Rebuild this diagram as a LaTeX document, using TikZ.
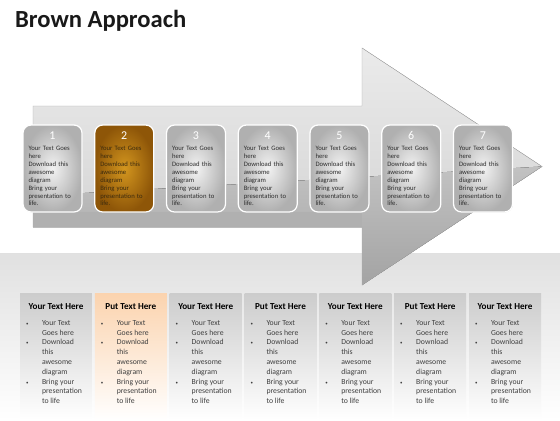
\documentclass[tikz,border=0pt]{standalone}
\usepackage{fontspec}
\setmainfont{Carlito}
\usepackage{tikz}
\usepackage{xcolor}
\usetikzlibrary{positioning,shapes,shadows}

\definecolor{boxtext}{HTML}{2E2E2E}
\definecolor{browntext}{HTML}{3B2A0E}
\definecolor{browninner}{HTML}{D3961F}
\definecolor{brownouter}{HTML}{8E5608}
\definecolor{peach}{HTML}{FBD3AE}

\newcommand{\steplines}{Your Text Goes\\here\\Download this\\awesome\\diagram\\Bring your\\presentation to\\life.}
\newcommand{\colbullet}{{\fontsize{7}{7}\selectfont\textbullet}}
\newcommand{\collines}{\begin{tabular}{@{}p{0.8cm}@{}l@{}}
\colbullet & Your Text\\ & Goes here\\
\colbullet & Download\\ & this\\ & awesome\\ & diagram\\
\colbullet & Bring your\\ & presentation\\ & to life
\end{tabular}}

\begin{document}
\begin{tikzpicture}[x=0.05cm,y=0.05cm,
  stepbox/.style={draw=white,line width=1.8pt,rounded corners=0.4cm,minimum width=2.95cm,minimum height=4.35cm,inner color=gray!10,outer color=gray!62,drop shadow={opacity=0.3,shadow xshift=0.6pt,shadow yshift=-0.6pt}},
  brownbox/.style={stepbox,inner color=browninner,outer color=brownouter},
  stepnum/.style={anchor=north,inner sep=0pt,text=white,font=\fontsize{17}{17}\selectfont},
  steptext/.style={anchor=north west,inner sep=0pt,text width=2.6cm,align=left,text=boxtext,font=\fontsize{9.5}{11.2}\selectfont},
  colbox/.style={minimum width=3.6cm,minimum height=6.35cm,inner sep=0pt,top color=gray!40,bottom color=white},
  peachbox/.style={colbox,top color=peach},
  colhead/.style={inner sep=0pt,font=\bfseries\fontsize{13}{13}\selectfont},
  coltext/.style={anchor=north west,inner sep=0pt,text=black!75,font=\fontsize{11}{13.9}\selectfont}]
\useasboundingbox (0,0) rectangle (560,-420);
\fill [white] (0,0) rectangle (560,-420);
\fill [top color=gray!24,bottom color=white] (0,-253) rectangle (560,-420);

% big arrow
\fill [top color=gray!16,bottom color=gray!38] (33,-106) -- (362,-106) -- (362,-48) -- (542,-166.5) -- (362,-285) -- (362,-227) -- (33,-227) -- cycle;
\fill [top color=gray!48,bottom color=gray!72] (33,-196) -- (542,-166.5) -- (362,-285) -- (362,-227) -- (33,-227) -- cycle;
\fill [gray!62] (33,-212) rectangle (362,-227);
\draw [gray!65,line width=0.6pt] (33,-106) -- (362,-106) -- (362,-48) -- (542,-166.5) -- (362,-285) -- (362,-227) -- (33,-227) -- cycle;

\node [anchor=base west,inner sep=0pt,text=black!90,font=\bfseries\fontsize{35}{35}\selectfont] (title) at (15,-27) {Brown Approach};

% steps
\node [stepbox] (step1) at (52.5,-168.5) {};
\node [stepnum] (num1) at ([yshift=-0.35cm]step1.north) {1};
\node [steptext] (text1) at ([xshift=0.3cm,yshift=-1.1cm]step1.north west) {\steplines};
\node [brownbox] (step2) at (124.25,-168.5) {};
\node [stepnum] (num2) at ([yshift=-0.35cm]step2.north) {2};
\node [steptext,text=browntext] (text2) at ([xshift=0.3cm,yshift=-1.1cm]step2.north west) {\steplines};
\node [stepbox] (step3) at (196,-168.5) {};
\node [stepnum] (num3) at ([yshift=-0.35cm]step3.north) {3};
\node [steptext] (text3) at ([xshift=0.3cm,yshift=-1.1cm]step3.north west) {\steplines};
\node [stepbox] (step4) at (267.75,-168.5) {};
\node [stepnum] (num4) at ([yshift=-0.35cm]step4.north) {4};
\node [steptext] (text4) at ([xshift=0.3cm,yshift=-1.1cm]step4.north west) {\steplines};
\node [stepbox] (step5) at (339.5,-168.5) {};
\node [stepnum] (num5) at ([yshift=-0.35cm]step5.north) {5};
\node [steptext] (text5) at ([xshift=0.3cm,yshift=-1.1cm]step5.north west) {\steplines};
\node [stepbox] (step6) at (411.25,-168.5) {};
\node [stepnum] (num6) at ([yshift=-0.35cm]step6.north) {6};
\node [steptext] (text6) at ([xshift=0.3cm,yshift=-1.1cm]step6.north west) {\steplines};
\node [stepbox] (step7) at (483,-168.5) {};
\node [stepnum] (num7) at ([yshift=-0.35cm]step7.north) {7};
\node [steptext] (text7) at ([xshift=0.3cm,yshift=-1.1cm]step7.north west) {\steplines};

% columns
\node [colbox] (col1) at (56,-356.5) {};
\node [colhead] (head1) at ([yshift=-0.7cm]col1.north) {Your Text Here};
\node [coltext] (list1) at ([xshift=0.3cm,yshift=-1.28cm]col1.north west) {\collines};
\node [peachbox] (col2) at (130.8,-356.5) {};
\node [colhead] (head2) at ([yshift=-0.7cm]col2.north) {Put Text Here};
\node [coltext] (list2) at ([xshift=0.3cm,yshift=-1.28cm]col2.north west) {\collines};
\node [colbox] (col3) at (205.7,-356.5) {};
\node [colhead] (head3) at ([yshift=-0.7cm]col3.north) {Your Text Here};
\node [coltext] (list3) at ([xshift=0.3cm,yshift=-1.28cm]col3.north west) {\collines};
\node [colbox] (col4) at (280.5,-356.5) {};
\node [colhead] (head4) at ([yshift=-0.7cm]col4.north) {Put Text Here};
\node [coltext] (list4) at ([xshift=0.3cm,yshift=-1.28cm]col4.north west) {\collines};
\node [colbox] (col5) at (355.3,-356.5) {};
\node [colhead] (head5) at ([yshift=-0.7cm]col5.north) {Your Text Here};
\node [coltext] (list5) at ([xshift=0.3cm,yshift=-1.28cm]col5.north west) {\collines};
\node [colbox] (col6) at (430.2,-356.5) {};
\node [colhead] (head6) at ([yshift=-0.7cm]col6.north) {Put Text Here};
\node [coltext] (list6) at ([xshift=0.3cm,yshift=-1.28cm]col6.north west) {\collines};
\node [colbox] (col7) at (505,-356.5) {};
\node [colhead] (head7) at ([yshift=-0.7cm]col7.north) {Your Text Here};
\node [coltext] (list7) at ([xshift=0.3cm,yshift=-1.28cm]col7.north west) {\collines};
\end{tikzpicture}
\end{document}
